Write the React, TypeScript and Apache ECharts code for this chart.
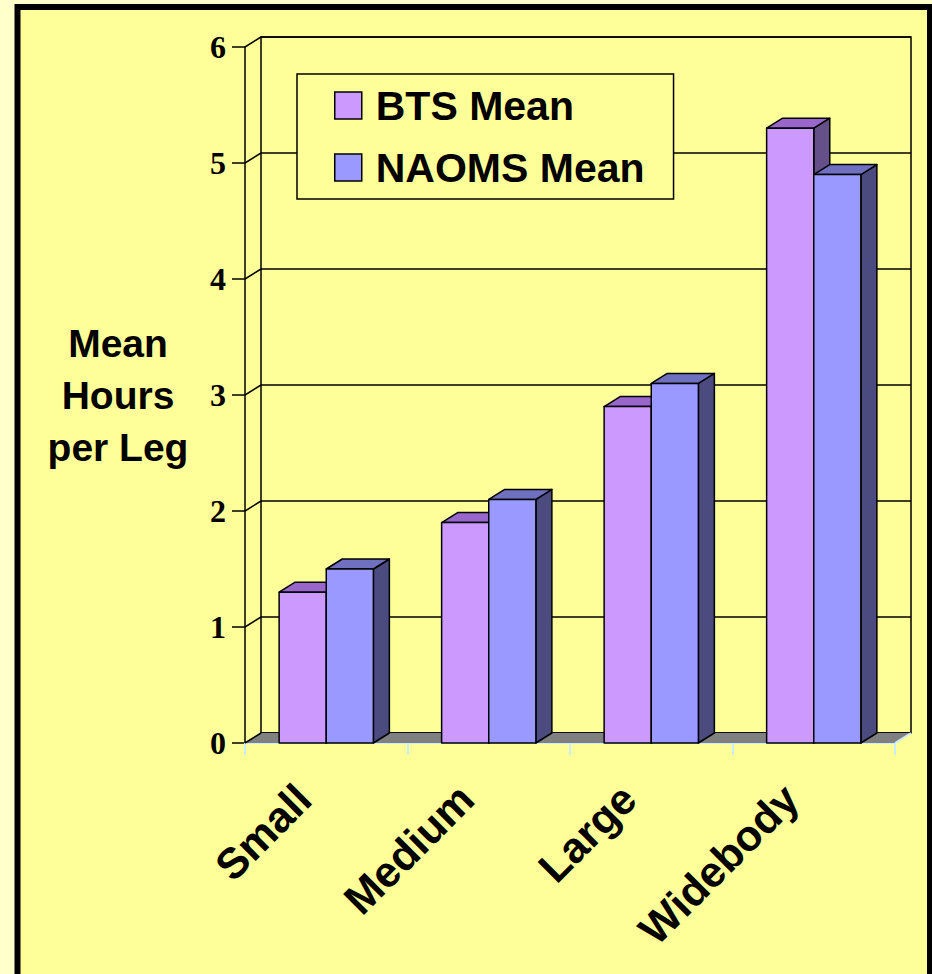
import React, { useEffect, useRef } from "react";
import * as echarts from "echarts";

const categories = ["Small", "Medium", "Large", "Widebody"];
const btsMean = [1.3, 1.9, 2.9, 5.3];
const naomsMean = [1.5, 2.1, 3.1, 4.9];
const yTicks = [0, 1, 2, 3, 4, 5, 6];
const seriesNames = ["BTS Mean", "NAOMS Mean"];
const yAxisTitle = "Mean\nHours\nper Leg";

const DX = 16;
const DY = 10;
const BAR_FRAC = 0.29;
const SANS = "'Liberation Sans', Arial, sans-serif";
const SERIF = "'Liberation Serif', 'Times New Roman', serif";

const BTS = { front: "#CC99FF", top: "#9966CC", side: "#66508A" };
const NAOMS = { front: "#9999FF", top: "#7070C0", side: "#4B4B80" };

function barRenderer(side: number, c: { front: string; top: string; side: string }) {
  return (params: any, api: any) => {
    const idx = api.value(0);
    const val = api.value(1);
    const p = api.coord([idx, val]);
    const base = api.coord([idx, 0]);
    const band = api.size([1, 0])[0];
    const w = band * BAR_FRAC;
    const x0 = side === 0 ? p[0] - w : p[0];
    const x1 = x0 + w;
    const yt = p[1];
    const yb = base[1];
    const st = { stroke: "#000", lineWidth: 1.5, lineJoin: "round" };
    return {
      type: "group",
      children: [
        {
          type: "polygon",
          shape: { points: [[x1, yt], [x1 + DX, yt - DY], [x1 + DX, yb - DY], [x1, yb]] },
          style: { fill: c.side, ...st },
        },
        {
          type: "polygon",
          shape: { points: [[x0, yt], [x0 + DX, yt - DY], [x1 + DX, yt - DY], [x1, yt]] },
          style: { fill: c.top, ...st },
        },
        {
          type: "rect",
          shape: { x: x0, y: yt, width: w, height: yb - yt },
          style: { fill: c.front, ...st },
        },
      ],
    };
  };
}

function wallRenderer(params: any, api: any) {
  const v = api.value(1);
  const band = api.size([1, 0])[0];
  const left = api.coord([0, v])[0] - band / 2;
  const right = api.coord([categories.length - 1, v])[0] + band / 2;
  const y = api.coord([0, v])[1];
  const children: any[] = [];
  if (v === yTicks[0]) {
    children.push({
      type: "polygon",
      shape: { points: [[left, y], [left + DX, y - DY], [right + DX, y - DY], [right, y]] },
      style: { fill: "#808080", stroke: "none" },
    });
    children.push({
      type: "line",
      shape: { x1: right, y1: y, x2: right + DX, y2: y - DY },
      style: { stroke: "#CCECFF", lineWidth: 2 },
    });
  }
  children.push({
    type: "line",
    shape: { x1: left, y1: y, x2: left + DX, y2: y - DY },
    style: { stroke: "#000", lineWidth: 1.5 },
  });
  return { type: "group", children };
}

export default function App() {
  const ref = useRef<HTMLDivElement>(null);
  useEffect(() => {
    if (!ref.current) return;
    const chart = echarts.init(ref.current, undefined, { renderer: "svg" });
    const yMin = yTicks[0];
    const yMax = yTicks[yTicks.length - 1];
    chart.setOption({
      animation: false,
      backgroundColor: "#FFFFCC",
      graphic: [
        {
          type: "rect",
          z: -10,
          shape: { x: 17.5, y: 7, width: 912.5, height: 1000 },
          style: { fill: "#FFFF99", stroke: "#000", lineWidth: 6 },
        },
      ],
      legend: {
        data: seriesNames,
        orient: "vertical",
        left: 297,
        top: 74,
        padding: [11, 29, 11, 37],
        itemWidth: 27,
        itemHeight: 27,
        itemGap: 21,
        icon: "rect",
        backgroundColor: "#FFFF99",
        borderColor: "#000",
        borderWidth: 1.5,
        itemStyle: { borderColor: "#000", borderWidth: 1.5 },
        textStyle: {
          fontFamily: SANS,
          fontWeight: "bold",
          fontSize: 41,
          lineHeight: 40,
          color: "#000",
          padding: [0, 0, 0, 9],
        },
      },
      grid: [
        { left: 245, top: 47, width: 650, height: 696, show: false },
        {
          left: 261,
          top: 37,
          width: 650,
          height: 696,
          show: true,
          backgroundColor: "transparent",
          borderColor: "#000",
          borderWidth: 1.5,
        },
      ],
      xAxis: [
        {
          type: "category",
          gridIndex: 0,
          data: categories,
          axisLine: { show: true, lineStyle: { color: "#CCECFF", width: 2 } },
          axisTick: { show: true, length: 12, lineStyle: { color: "#CCECFF", width: 2 } },
          axisLabel: {
            rotate: 45,
            margin: 26,
            padding: [0, 32, 0, 0],
            fontFamily: SANS,
            fontWeight: "bold",
            fontSize: 43,
            color: "#000",
            interval: 0,
          },
          splitLine: { show: false },
        },
        {
          type: "category",
          gridIndex: 1,
          data: categories,
          axisLine: { show: false },
          axisTick: { show: false },
          axisLabel: { show: false },
          splitLine: { show: false },
        },
      ],
      yAxis: [
        {
          type: "value",
          gridIndex: 0,
          min: yMin,
          max: yMax,
          interval: 1,
          name: yAxisTitle,
          nameLocation: "middle",
          nameRotate: 0,
          nameGap: 127,
          nameTextStyle: {
            fontFamily: SANS,
            fontWeight: "bold",
            fontSize: 39,
            lineHeight: 52,
            color: "#000",
            align: "center",
            verticalAlign: "middle",
          },
          axisLine: { show: true, lineStyle: { color: "#000", width: 1.5 } },
          axisTick: { show: true, length: 13, lineStyle: { color: "#000", width: 1.5 } },
          axisLabel: {
            margin: 19,
            padding: [8, 0, 0, 0],
            fontFamily: SERIF,
            fontWeight: "bold",
            fontSize: 32,
            color: "#000",
          },
          splitLine: { show: false },
        },
        {
          type: "value",
          gridIndex: 1,
          min: yMin,
          max: yMax,
          interval: 1,
          axisLine: { show: false },
          axisTick: { show: false },
          axisLabel: { show: false },
          splitLine: { show: true, lineStyle: { color: "#000", width: 1.5 } },
        },
      ],
      series: [
        {
          type: "custom",
          name: "walls",
          xAxisIndex: 0,
          yAxisIndex: 0,
          z: 1,
          silent: true,
          renderItem: wallRenderer,
          data: yTicks.map((v) => [0, v]),
          encode: { x: 0, y: 1 },
        },
        {
          type: "custom",
          name: seriesNames[0],
          xAxisIndex: 0,
          yAxisIndex: 0,
          z: 3,
          itemStyle: { color: BTS.front, borderColor: "#000", borderWidth: 1.5 },
          renderItem: barRenderer(0, BTS),
          data: btsMean.map((v, i) => [i, v]),
          encode: { x: 0, y: 1 },
        },
        {
          type: "custom",
          name: seriesNames[1],
          xAxisIndex: 0,
          yAxisIndex: 0,
          z: 4,
          itemStyle: { color: NAOMS.front, borderColor: "#000", borderWidth: 1.5 },
          renderItem: barRenderer(1, NAOMS),
          data: naomsMean.map((v, i) => [i, v]),
          encode: { x: 0, y: 1 },
        },
      ],
    });
    return () => chart.dispose();
  }, []);
  return (
    <div
      ref={ref}
      style={{ position: "fixed", left: 0, top: 0, width: 932, height: 974 }}
    />
  );
}
